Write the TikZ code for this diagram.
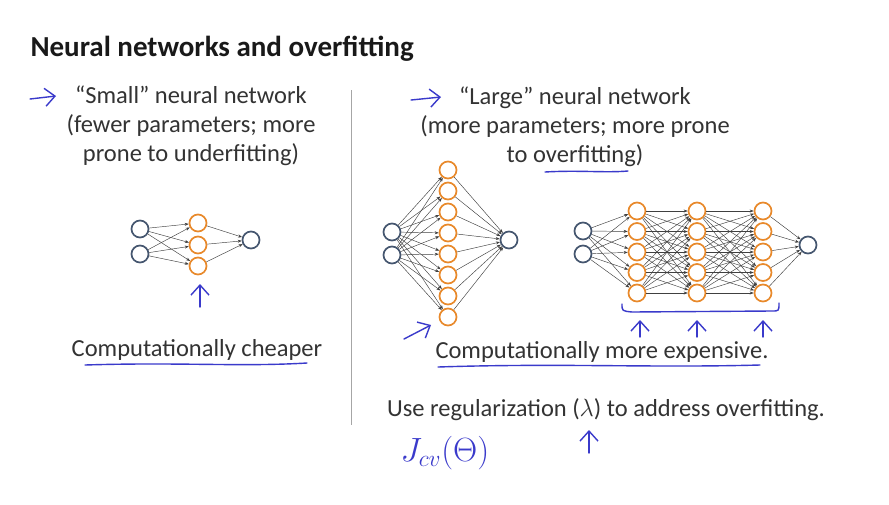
\documentclass[tikz,border=0pt]{standalone}
\usepackage{fontspec}
\setmainfont{Carlito}
\usetikzlibrary{arrows.meta,positioning}
\definecolor{ink}{HTML}{3A3ACB}
\definecolor{orng}{HTML}{E8892B}
\definecolor{slate}{HTML}{45566F}
\definecolor{wire}{HTML}{404040}
\tikzset{unit/.style={circle,draw=orng,line width=1.7pt,minimum size=17pt,inner sep=0pt,fill=white},inp/.style={unit,draw=slate},link/.style={-{Stealth[length=4pt,width=3pt]},draw=wire,line width=0.45pt},txt/.style={font=\fontsize{24.5}{29}\selectfont,align=center,text=black!80},pen/.style={draw=ink,line width=1.4pt,line cap=round,line join=round},tip/.style={pen,-{Straight Barb[length=10pt,width=18pt]}}}

\begin{document}
\begin{tikzpicture}[x=1pt,y=-1pt]
\useasboundingbox[fill=white] (0,0) rectangle (889,504);
\node[anchor=west,font=\fontsize{29}{34}\selectfont\bfseries,text=black!90] (title) at (27,49) {Neural networks and overfitting};
\draw[gray!70,line width=0.8pt] (351,90) -- (351,425);
% left column
\node[txt] (small) at (191,126) {“Small” neural network\\(fewer parameters; more\\prone to underfitting)};
\foreach \i/\y in {1/229,2/254} \node[inp] (s0\i) at (140,\y) {};
\foreach \j/\y in {1/223,2/245,3/266} \node[unit] (s1\j) at (198,\y) {};
\node[inp] (s2) at (251,240) {};
\foreach \i in {1,2} \foreach \j in {1,2,3} \draw[link] (s0\i) -- (s1\j);
\foreach \j in {1,2,3} \draw[link] (s1\j) -- (s2);
\node[txt] (cheap) at (197,350) {Computationally cheaper};
% right column
\node[txt] (large) at (575,127) {“Large” neural network\\(more parameters; more prone\\to overfitting)};
\foreach \i/\y in {1/232,2/255} \node[inp] (a0\i) at (392,\y) {};
\foreach \j in {1,...,8} \node[unit] (a1\j) at (448,149+21*\j) {};
\node[inp] (a2) at (509,240) {};
\foreach \i in {1,2} \foreach \j in {1,...,8} \draw[link] (a0\i) -- (a1\j);
\foreach \j in {1,...,8} \draw[link] (a1\j) -- (a2);
\foreach \i/\y in {1/231,2/254} \node[inp] (b0\i) at (583,\y) {};
\foreach \l/\x in {1/637,2/697,3/763} \foreach \j in {1,...,5} \node[unit] (b\l\j) at (\x,190.5+20.5*\j) {};
\node[inp] (b4) at (808,245) {};
\foreach \i in {1,2} \foreach \j in {1,...,5} \draw[link] (b0\i) -- (b1\j);
\foreach \l/\m in {1/2,2/3} \foreach \i in {1,...,5} \foreach \j in {1,...,5} \draw[link] (b\l\i) -- (b\m\j);
\foreach \j in {1,...,5} \draw[link] (b3\j) -- (b4);
\node[txt] (costly) at (602,352) {Computationally more expensive.};
\node[txt] (reg) at (606,410) {Use regularization ($\lambda$) to address overfitting.};
\node[text=ink,font=\fontsize{24}{28}\selectfont,scale=1.35] (jcv) at (445,453) {$J_{cv}(\Theta)$};
% pen marks
\draw[tip] (30,99) -- (56,96);
\draw[tip] (411,100) -- (441,97);
\draw[tip] (200,307) -- (200,284);
\draw[tip] (404,339) -- (431,325);
\foreach \x in {640,697,763} \draw[tip] (\x,337) -- (\x,320);
\draw[tip] (589,453) -- (589,430);
\draw[pen] (622,304) .. controls (622,311) .. (632,312) -- (772,311) .. controls (779,311) .. (779,303);
\draw[pen] (85,365) .. controls (180,362) and (240,367) .. (307,363);
\draw[pen] (438,367) .. controls (560,363) and (650,368) .. (760,365);
\draw[pen] (545,172) .. controls (580,170) and (605,173) .. (628,171);
\end{tikzpicture}
\end{document}
